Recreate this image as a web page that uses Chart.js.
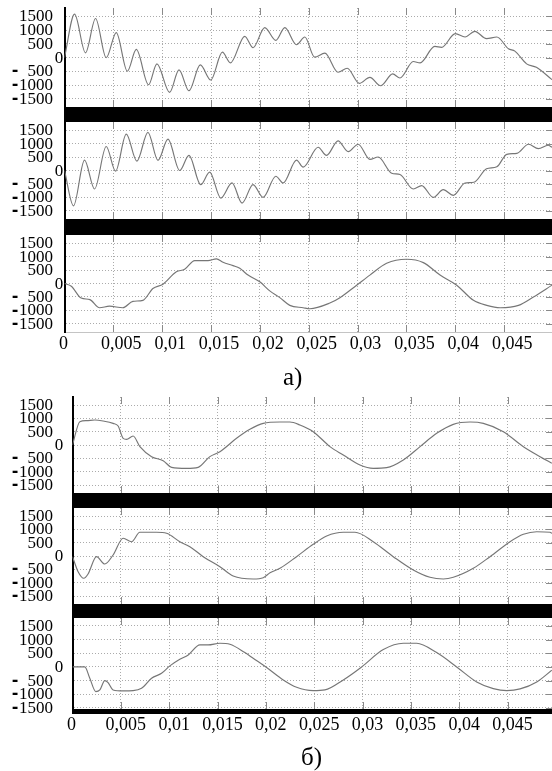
<!DOCTYPE html>
<html><head><meta charset="utf-8">
<script src="https://cdn.jsdelivr.net/npm/chart.js@4"></script>
<style>
body{margin:0;background:#fff;}
#wrap{position:relative;width:552px;height:771px;overflow:hidden;background:#fff;}
#wrap canvas{position:absolute;left:0;}
.bar{position:absolute;background:#000;}
.cap{position:absolute;font-family:"Liberation Serif",serif;font-size:25px;line-height:1;color:#000;}
</style></head><body><div id="wrap"></div>
<script>
// ---- data (time in s, value) ----
const a1T = [0,0.00103,0.00215,0.00318,0.00427,0.0053,0.00643,0.00735,0.0086,0.00946,0.01076,0.01172,0.01274,0.0139,0.01497,0.01616,0.01698,0.01845,0.0193,0.0205,0.02163,0.02255,0.02375,0.0246,0.0256,0.02665,0.028,0.02894,0.03017,0.03126,0.03236,0.03359,0.03434,0.0357,0.0364,0.0379,0.0386,0.04,0.041,0.042,0.0432,0.04425,0.04544,0.0461,0.0473,0.0483,0.0499];
const a1V = [0,1575,170,1417,-10,905,-500,293,-990,-231,-1270,-451,-1209,-268,-817,194,-195,769,355,1088,623,1088,465,744,11,157,-538,-392,-940,-721,-1026,-598,-744,-147,-195,403,370,868,744,952,685,744,318,231,-231,-355,-806];
const a2T = [0,0.00092,0.00205,0.00308,0.00427,0.00523,0.00632,0.00741,0.00854,0.00957,0.01059,0.01179,0.01274,0.01394,0.01486,0.016,0.01715,0.01817,0.0193,0.02033,0.02163,0.02238,0.02375,0.02443,0.02596,0.02682,0.028,0.02904,0.03006,0.03126,0.03211,0.03349,0.03434,0.0357,0.03656,0.03775,0.03877,0.0398,0.041,0.0419,0.0432,0.04425,0.04527,0.0463,0.0475,0.0485,0.0495,0.0499];
const a2V = [0,-1312,386,-686,889,-25,1350,350,1413,375,1163,0,562,-525,-62,-1025,-462,-1212,-525,-1000,-212,-462,386,125,862,562,1100,700,975,412,500,-100,-150,-686,-562,-1000,-712,-925,-462,-437,62,137,600,637,975,812,937,862];
const a3T = [0,0.0007,0.00171,0.0026,0.00359,0.0046,0.00598,0.007,0.00803,0.00905,0.01008,0.01145,0.0123,0.01333,0.01469,0.01555,0.01623,0.01725,0.01794,0.01879,0.01999,0.02101,0.02204,0.02306,0.02443,0.02511,0.02716,0.02819,0.0299,0.03126,0.03297,0.03502,0.03673,0.03844,0.04015,0.04186,0.04322,0.04459,0.04647,0.048,0.0499];
const a3V = [0,-100,-540,-600,-900,-840,-900,-662,-625,-187,-25,437,525,850,850,912,787,662,562,312,62,-275,-525,-812,-900,-937,-725,-525,-62,312,750,900,775,312,-62,-625,-812,-900,-812,-500,-62];
const b1T = [0,0.00076,0.00145,0.00231,0.00317,0.0042,0.00472,0.00524,0.00559,0.00627,0.00697,0.00818,0.00938,0.01025,0.0118,0.013,0.01421,0.01525,0.01697,0.01835,0.01973,0.02146,0.02249,0.02353,0.0249,0.02663,0.02801,0.02974,0.03111,0.0325,0.03422,0.03595,0.03767,0.03939,0.04112,0.0425,0.04457,0.04664,0.04837,0.04958];
const b1V = [0,875,912,937,900,812,712,250,212,337,-62,-437,-587,-837,-875,-837,-437,-250,250,587,812,862,862,750,500,-62,-375,-750,-875,-850,-562,-62,437,775,862,812,500,-62,-437,-687];
const b2T = [0,0.00058,0.00117,0.00161,0.00248,0.00334,0.0042,0.00524,0.00611,0.00697,0.00869,0.00973,0.0111,0.01214,0.01352,0.01525,0.01662,0.01869,0.01973,0.02043,0.02146,0.02318,0.0249,0.02629,0.02801,0.02922,0.03111,0.03318,0.03525,0.03698,0.03836,0.03939,0.04146,0.04319,0.04526,0.04664,0.04802,0.0494,0.0496];
const b2V = [-25,-589,-836,-675,-25,-300,37,664,536,889,889,851,536,349,-25,-401,-750,-862,-814,-626,-461,-25,439,750,889,889,536,-25,-525,-799,-862,-799,-461,-25,536,814,911,889,851];
const b3T = [0,0.00127,0.00179,0.00241,0.00283,0.00334,0.00368,0.0042,0.00524,0.00627,0.00714,0.00818,0.00921,0.01007,0.0111,0.01197,0.01318,0.01403,0.01525,0.01628,0.01783,0.01869,0.02008,0.0218,0.02318,0.0249,0.02611,0.02801,0.02991,0.03215,0.03422,0.0356,0.03767,0.03974,0.04181,0.04353,0.04492,0.0463,0.04802,0.04958];
const b3V = [0,0,-415,-904,-842,-501,-574,-842,-879,-867,-780,-415,-232,37,281,439,805,805,867,830,524,317,-20,-476,-744,-867,-842,-476,0,634,867,867,524,0,-549,-793,-867,-805,-549,-122];

const yTickValues = [1500,1000,500,0,-500,-1000,-1500];
const xTickValues = [0,0.005,0.01,0.015,0.02,0.025,0.03,0.035,0.04,0.045];
const xTickLabels = ["0","0,005","0,01","0,015","0,02","0,025","0,03","0,035","0,04","0,045"];
const captions = ["а)","б)"];

// ---- layout ----
const SERIF = '"Liberation Serif", "Times New Roman", serif';
const grpA = {axisX:64.5, xMax:0.0499, shift:8, labelY:344};
const grpB = {axisX:72.5, xMax:0.0496, shift:5, labelY:725};
const panels = [
  {t:a1T, v:a1V, g:grpA, top:8,   bottom:107, min:-1800, max:1800, xl:false},
  {t:a2T, v:a2V, g:grpA, top:122, bottom:219, min:-1800, max:1800, xl:false},
  {t:a3T, v:a3V, g:grpA, top:235, bottom:332, min:-1800, max:1800, xl:true},
  {t:b1T, v:b1V, g:grpB, top:397, bottom:493, min:-1800, max:1800, xl:false},
  {t:b2T, v:b2V, g:grpB, top:508, bottom:604, min:-1800, max:1800, xl:false},
  {t:b3T, v:b3V, g:grpB, top:618, bottom:709, min:-1540, max:1790, xl:true}
];
const bars = [
  {x:64, y:107, h:15}, {x:64, y:219, h:16},
  {x:72, y:493, h:15}, {x:72, y:604, h:14}, {x:72, y:709, h:5}
];

const wrap = document.getElementById('wrap');

function decor(p, padTop){
  return {
    id:'decor',
    afterDraw(chart){
      const ctx = chart.ctx, ca = chart.chartArea;
      const xs = chart.scales.x, ys = chart.scales.y;
      ctx.save();
      // inward tick marks
      ctx.strokeStyle = '#8a8a8a'; ctx.lineWidth = 1;
      ctx.beginPath();
      xTickValues.forEach(v => {
        if (v === 0) return;
        const x = Math.round(xs.getPixelForValue(v)) + 0.5;
        ctx.moveTo(x, ca.top); ctx.lineTo(x, ca.top + 7);
        ctx.moveTo(x, ca.bottom); ctx.lineTo(x, ca.bottom - 7);
      });
      yTickValues.forEach(v => {
        const y = Math.round(ys.getPixelForValue(v)) + 0.5;
        ctx.moveTo(ca.right, y); ctx.lineTo(ca.right - 6, y);
      });
      ctx.stroke();
      // y labels
      ctx.fillStyle = '#000';
      ctx.textBaseline = 'middle';
      yTickValues.forEach(v => {
        const y = ys.getPixelForValue(v);
        ctx.font = '17px ' + SERIF;
        if (v === 0) {
          ctx.textAlign = 'center';
          ctx.fillText('0', 59, y + 1);
        } else {
          ctx.textAlign = 'right';
          ctx.fillText(String(Math.abs(v)), 53, y + 0.5);
          if (v < 0) {
            ctx.font = 'bold 16px "DejaVu Sans"'; ctx.textAlign = 'center';
            ctx.fillText('-', 15, y);
          }
        }
      });
      // x labels
      if (p.xl) {
        ctx.font = '18px ' + SERIF; ctx.textAlign = 'center'; ctx.textBaseline = 'middle';
        const yy = p.g.labelY - (p.top - padTop);
        xTickValues.forEach((v, i) => {
          const x = xs.getPixelForValue(v) + (v === 0 ? -1 : p.g.shift);
          ctx.fillText(xTickLabels[i], x, yy);
        });
      }
      ctx.restore();
    }
  };
}

function makePanel(p){
  const padTop = 12, padBot = p.xl ? 40 : 12;
  const h = (p.bottom - p.top) + padTop + padBot;
  const c = document.createElement('canvas');
  c.width = 552; c.height = h;
  c.style.top = (p.top - padTop) + 'px';
  c.style.width = '552px'; c.style.height = h + 'px';
  wrap.appendChild(c);
  new Chart(c, {
    type:'line',
    data:{datasets:[{
      data:p.t.map((x,i) => ({x:x, y:p.v[i]})),
      borderColor:'#767676', borderWidth:1.15, pointRadius:0,
      cubicInterpolationMode:'monotone', fill:false
    }]},
    options:{
      responsive:false, animation:false, devicePixelRatio:1,
      layout:{padding:{left:p.g.axisX, right:0, top:padTop, bottom:padBot}},
      plugins:{legend:{display:false}, tooltip:{enabled:false}},
      scales:{
        x:{type:'linear', min:0, max:p.g.xMax,
           afterBuildTicks:s => { s.ticks = xTickValues.map(v => ({value:v})); },
           ticks:{display:false},
           grid:{drawTicks:false, color:'#ababab', lineWidth:1},
           border:{display:true, color:p.xl ? '#c4c4c4' : '#000', width:1, dash:[1,2]}},
        y:{type:'linear', min:p.min, max:p.max,
           afterBuildTicks:s => { s.ticks = yTickValues.map(v => ({value:v})); },
           ticks:{display:false},
           grid:{drawTicks:false, color:'#ababab', lineWidth:1},
           border:{display:true, color:'#000', width:2, dash:[1,2]}}
      }
    },
    plugins:[decor(p, padTop)]
  });
}

panels.forEach(makePanel);

bars.forEach(b => {
  const d = document.createElement('div');
  d.className = 'bar';
  d.style.left = b.x + 'px'; d.style.top = b.y + 'px';
  d.style.width = (552 - b.x) + 'px'; d.style.height = b.h + 'px';
  wrap.appendChild(d);
});

[{txt:captions[0], x:283, y:364}, {txt:captions[1], x:301, y:744}].forEach(cp => {
  const d = document.createElement('div');
  d.className = 'cap';
  d.textContent = cp.txt;
  d.style.left = cp.x + 'px'; d.style.top = cp.y + 'px';
  wrap.appendChild(d);
});
</script>
</body></html>
